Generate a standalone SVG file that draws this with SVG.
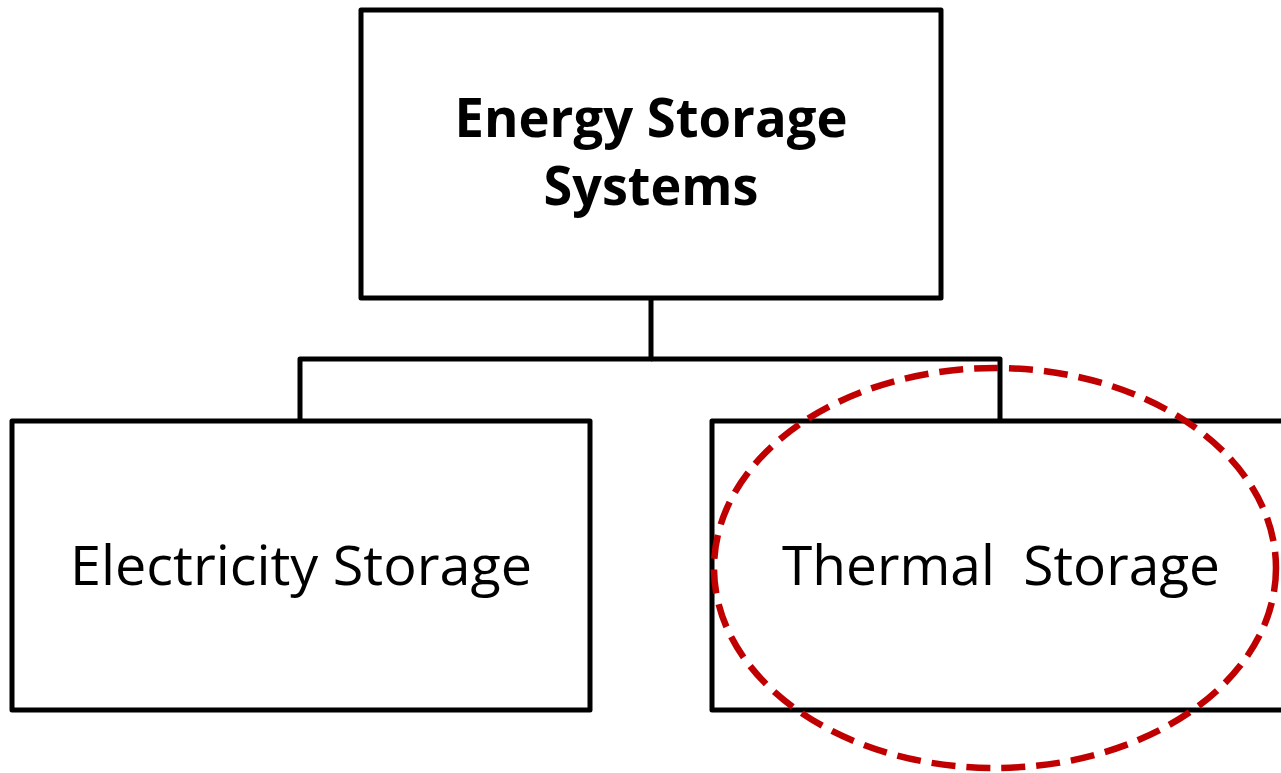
<svg xmlns="http://www.w3.org/2000/svg" width="1281" height="773" viewBox="0 0 1281 773">
<style>
.box{fill:#fff;stroke:#000;stroke-width:5;stroke-linejoin:round}
.conn{fill:none;stroke:#000;stroke-width:5;stroke-linejoin:round}
.t{font-family:"Open Sans","Noto Sans","Liberation Sans",sans-serif;font-size:54px;fill:#000;text-anchor:middle}
.b{font-weight:bold}
.hl{fill:none;stroke:#C00000;stroke-width:6.5;stroke-dasharray:24 11}
</style>
<rect width="1281" height="773" fill="#fff"/>
<g id="connectors">
<polyline class="conn" points="651,298 651,359 300,359 300,421"/>
<polyline class="conn" points="651,359 1000,359 1000,421"/>
</g>
<g id="node-root">
<rect class="box" x="361" y="10" width="580" height="288"/>
<text class="t b" x="651" y="137" textLength="393" lengthAdjust="spacingAndGlyphs">Energy Storage</text>
<text class="t b" x="651" y="205" textLength="215" lengthAdjust="spacingAndGlyphs">Systems</text>
</g>
<g id="node-electricity">
<rect class="box" x="12" y="421" width="578" height="289"/>
<text class="t" x="301" y="585" textLength="462" lengthAdjust="spacingAndGlyphs">Electricity Storage</text>
</g>
<g id="node-thermal">
<rect class="box" x="712" y="421" width="600" height="289"/>
<text class="t" x="1001" y="585" textLength="438" lengthAdjust="spacingAndGlyphs" xml:space="preserve">Thermal  Storage</text>
</g>
<g id="highlight">
<ellipse class="hl" cx="995" cy="568" rx="281" ry="200"/>
</g>
</svg>
